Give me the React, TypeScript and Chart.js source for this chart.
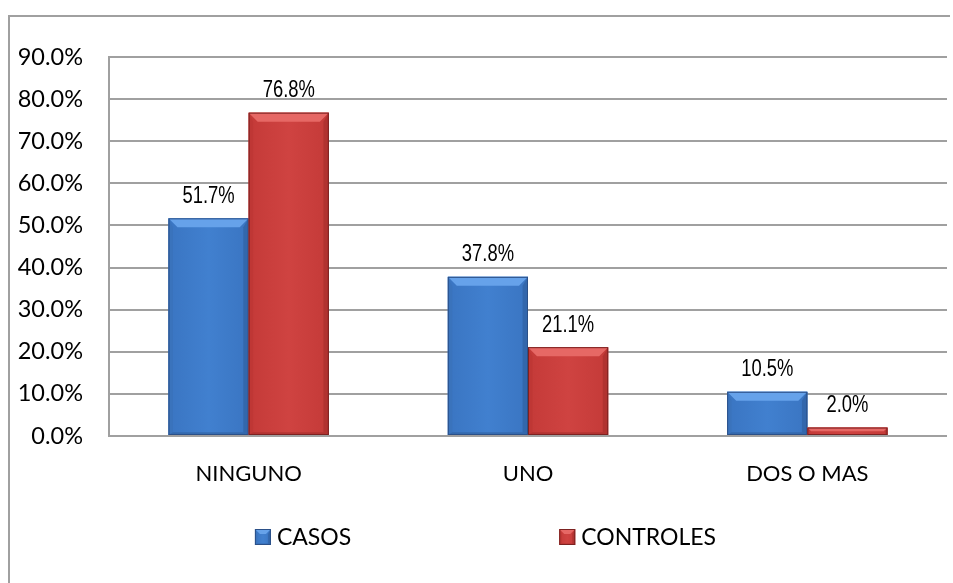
import React, { useEffect, useRef } from "react";
import { Chart, registerables } from "chart.js";

Chart.register(...registerables);

const categories = ["NINGUNO", "UNO", "DOS O MAS"];
const seriesNames = ["CASOS", "CONTROLES"];
const casos = [51.7, 37.8, 10.5];
const controles = [76.8, 21.1, 2.0];
const yMax = 90;
const yStep = 10;

const palettes = [
  { main: "#3a75c2", mid: "#4180cf", top: "#66a2ea", left: "#3a71b8", right: "#2f5e9c", bottom: "#2f5f9c", line: "#2b5088" },
  { main: "#c43a38", mid: "#cf4341", top: "#e66865", left: "#bb3634", right: "#a32d2b", bottom: "#a32d2b", line: "#7c2221" },
];

function drawBevelBox(ctx: CanvasRenderingContext2D, l: number, t: number, w: number, h: number, p: any, maxBv: number) {
  const r = l + w;
  const b = t + h;
  const bv = Math.max(0, Math.min(maxBv, h / 2, w / 2));
  const g = ctx.createLinearGradient(l, 0, r, 0);
  g.addColorStop(0, p.main);
  g.addColorStop(0.5, p.mid);
  g.addColorStop(1, p.main);
  ctx.fillStyle = g;
  ctx.fillRect(l, t, w, h);
  ctx.fillStyle = p.top;
  ctx.beginPath();
  ctx.moveTo(l, t);
  ctx.lineTo(r, t);
  ctx.lineTo(r - bv, t + bv);
  ctx.lineTo(l + bv, t + bv);
  ctx.closePath();
  ctx.fill();
  ctx.globalAlpha = 0.6;
  ctx.fillStyle = p.left;
  ctx.beginPath();
  ctx.moveTo(l, t);
  ctx.lineTo(l + bv * 0.5, t + bv);
  ctx.lineTo(l + bv * 0.5, b - bv * 0.3);
  ctx.lineTo(l, b);
  ctx.closePath();
  ctx.fill();
  ctx.fillStyle = p.right;
  ctx.beginPath();
  ctx.moveTo(r, t);
  ctx.lineTo(r - bv * 0.6, t + bv);
  ctx.lineTo(r - bv * 0.6, b - bv * 0.3);
  ctx.lineTo(r, b);
  ctx.closePath();
  ctx.fill();
  ctx.fillStyle = p.bottom;
  ctx.beginPath();
  ctx.moveTo(l, b);
  ctx.lineTo(r, b);
  ctx.lineTo(r - bv * 0.6, b - bv * 0.3);
  ctx.lineTo(l + bv * 0.5, b - bv * 0.3);
  ctx.closePath();
  ctx.fill();
  ctx.globalAlpha = 1;
  ctx.strokeStyle = p.line;
  ctx.lineWidth = 1;
  ctx.strokeRect(l + 0.5, t + 0.5, w - 1, Math.max(0, h - 1));
}

const bevelPlugin = {
  id: "bevelBars",
  afterDatasetsDraw(chart: any) {
    const ctx = chart.ctx as CanvasRenderingContext2D;
    ctx.save();
    chart.data.datasets.forEach((ds: any, i: number) => {
      const meta = chart.getDatasetMeta(i);
      meta.data.forEach((bar: any) => {
        const { x, y, base, width } = bar.getProps(["x", "y", "base", "width"], true);
        const l = x - width / 2;
        const t = Math.min(y, base);
        const h = Math.abs(base - y);
        drawBevelBox(ctx, l, t, width, h, palettes[i], 9);
      });
    });
    ctx.fillStyle = "#000";
    ctx.font = '23px "Liberation Sans", Arial, sans-serif';
    ctx.textAlign = "center";
    ctx.textBaseline = "alphabetic";
    chart.data.datasets.forEach((ds: any, i: number) => {
      const meta = chart.getDatasetMeta(i);
      meta.data.forEach((bar: any, j: number) => {
        const { x, y } = bar.getProps(["x", "y"], true);
        ctx.save();
        ctx.translate(x, y - 15.5);
        ctx.scale(0.8, 1);
        ctx.fillText(ds.data[j].toFixed(1) + "%", 0, 0);
        ctx.restore();
      });
    });
    ctx.restore();
  },
};

const legendPlugin = {
  id: "customLegend",
  afterDraw(chart: any) {
    const ctx = chart.ctx as CanvasRenderingContext2D;
    ctx.save();
    ctx.font = '23px Lato, "Open Sans", sans-serif';
    const box = 16;
    const gap = 6;
    const itemGap = 208;
    const widths = seriesNames.map((n) => ctx.measureText(n).width);
    const total = widths.reduce((a, w) => a + box + gap + w, 0) + itemGap * (seriesNames.length - 1);
    let x = 475.5 - total / 2;
    const cy = 520;
    seriesNames.forEach((n, i) => {
      drawBevelBox(ctx, x, cy - box / 2, box, box, palettes[i], 5);
      ctx.fillStyle = "#000";
      ctx.textAlign = "left";
      ctx.textBaseline = "middle";
      ctx.fillText(n, x + box + gap, cy + 1);
      x += box + gap + widths[i] + itemGap;
    });
    ctx.restore();
  },
};

export default function App() {
  const ref = useRef<HTMLCanvasElement>(null);
  useEffect(() => {
    if (!ref.current) return;
    const chart = new Chart(ref.current, {
      type: "bar",
      data: {
        labels: categories,
        datasets: [
          { label: seriesNames[0], data: casos, backgroundColor: palettes[0].main, borderWidth: 0 },
          { label: seriesNames[1], data: controles, backgroundColor: palettes[1].main, borderWidth: 0 },
        ],
      },
      options: {
        animation: false,
        responsive: false,
        events: [],
        layout: { padding: { top: 22, right: 3, left: 0, bottom: 0 } },
        plugins: { legend: { display: false }, tooltip: { enabled: false } },
        datasets: { bar: { barPercentage: 1, categoryPercentage: 0.574 } },
        scales: {
          x: {
            grid: { display: false, drawTicks: false },
            border: { display: false },
            ticks: { color: "#000", padding: 25, font: { family: 'Lato, "Open Sans", sans-serif', size: 22 } },
            afterFit: (s: any) => { s.height = 147; },
          },
          y: {
            min: 0,
            max: yMax,
            grid: { color: "#a0a0a0", lineWidth: 2, drawTicks: false },
            border: { display: true, color: "#a0a0a0", width: 2 },
            ticks: {
              stepSize: yStep,
              color: "#000",
              padding: 26,
              font: { family: 'Lato, "Open Sans", sans-serif', size: 23.5 },
              callback: (v: any) => Number(v).toFixed(1) + "%",
            },
            afterFit: (s: any) => { s.width = 99; },
          },
        },
      },
      plugins: [bevelPlugin, legendPlugin],
    });
    return () => chart.destroy();
  }, []);
  return (
    <div
      style={{
        position: "fixed",
        left: 8,
        top: 15,
        width: 942,
        height: 568,
        borderTop: "2px solid #a0a0a0",
        borderLeft: "2px solid #a0a0a0",
        boxSizing: "border-box",
        background: "#fff",
        overflow: "hidden",
      }}
    >
      <canvas ref={ref} width={940} height={566} style={{ display: "block" }} />
    </div>
  );
}
